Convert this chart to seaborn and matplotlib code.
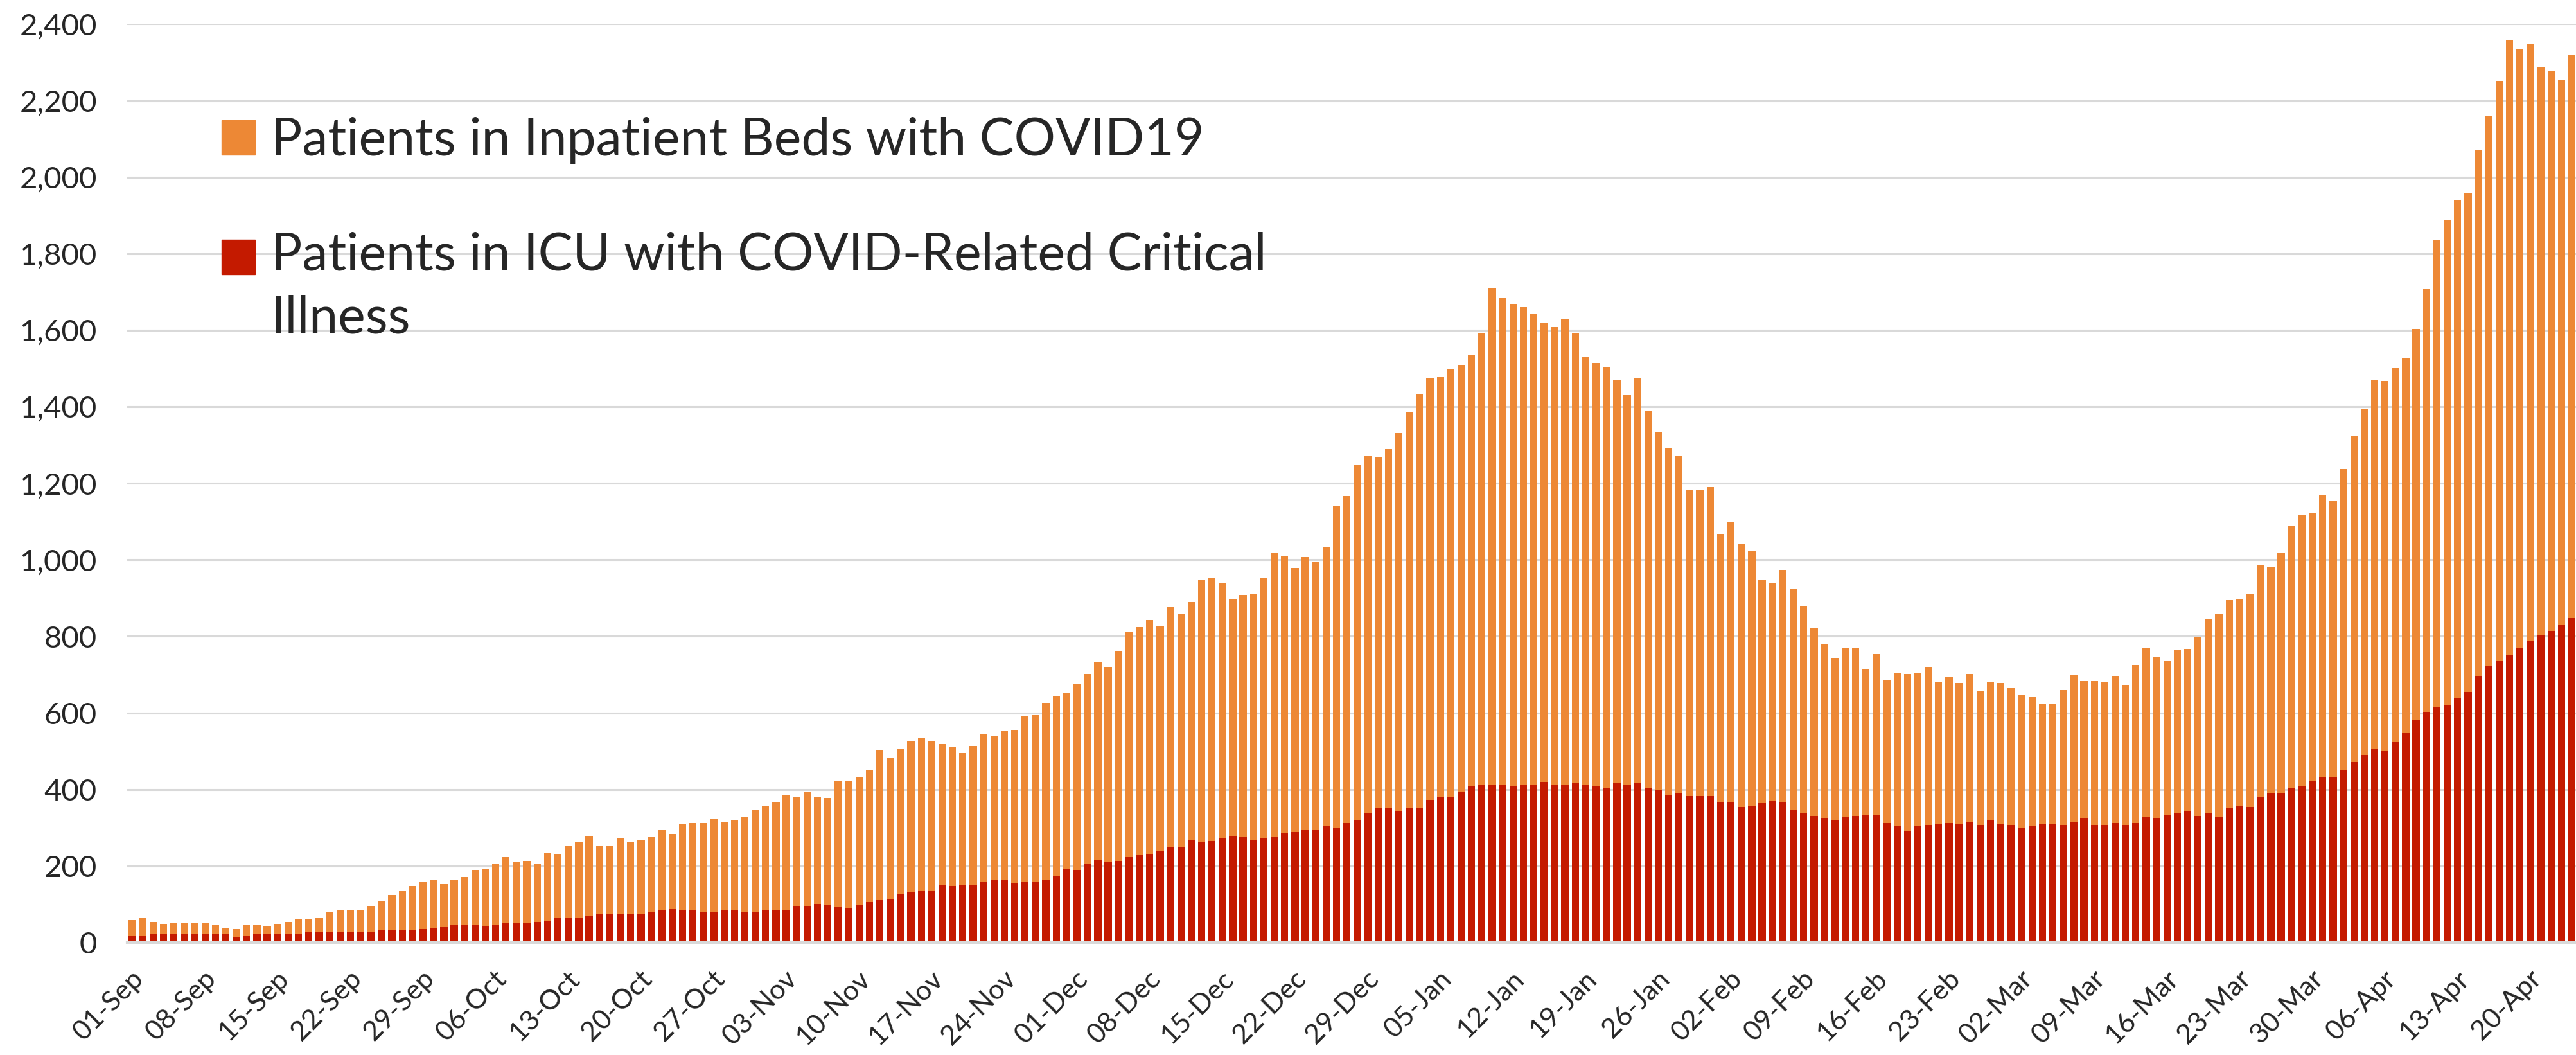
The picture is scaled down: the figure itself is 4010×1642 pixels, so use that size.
import numpy as np
import pandas as pd
import matplotlib
matplotlib.use("Agg")
import matplotlib.pyplot as plt
import seaborn as sns
from matplotlib.ticker import FuncFormatter
from matplotlib.patches import Patch, Rectangle
from matplotlib.legend_handler import HandlerPatch
from matplotlib.transforms import ScaledTranslation

# daily values, 01-Sep-2020 .. 24-Apr-2021
dates = pd.date_range("2020-09-01", "2021-04-24", freq="D")

# top of the orange column = all patients in inpatient beds with COVID19
inpatient_total = [
    58, 63, 54, 49, 51, 51, 51, 51, 45, 39, 35, 45, 45, 44, 49, 54, 60, 60, 65, 79,
    85, 85, 85, 96, 108, 125, 135, 148, 159, 165, 152, 163, 172, 190, 192, 206, 223, 210, 214, 205,
    234, 231, 252, 262, 278, 251, 253, 274, 262, 269, 275, 293, 283, 310, 313, 312, 323, 315, 320, 329,
    348, 357, 368, 385, 379, 393, 380, 378, 422, 423, 433, 451, 503, 484, 505, 528, 535, 525, 518,
    510, 496, 514, 545, 539, 553, 556, 592, 595, 627, 643, 653, 675, 701, 733, 721, 763, 812, 825, 843,
    827, 876, 858, 890, 947, 954, 940, 897, 909, 911, 954, 1019, 1011, 978, 1007, 994, 1033, 1141, 1167,
    1249,
    1271, 1270, 1289, 1332, 1386, 1433, 1475, 1477, 1499, 1509, 1536, 1592, 1711, 1684, 1668, 1661, 1644, 1618, 1608, 1628,
    1594, 1530, 1515, 1504, 1469, 1432, 1476, 1390, 1335, 1291, 1271, 1182, 1182, 1191, 1068, 1099, 1042, 1022, 949,
    938,
    973, 925, 879, 823, 781, 744, 770, 771, 714, 753, 685, 703, 701, 705, 720, 680, 694, 679, 701, 658,
    680, 679, 665, 646, 641, 623, 624, 659, 698, 684, 684, 680, 696, 674, 726, 770, 747, 736,
    764,
    768, 797, 847, 858, 895, 896, 911, 985, 980, 1018, 1089, 1116, 1123, 1169, 1155, 1237, 1324, 1393, 1471, 1467,
    1502, 1528, 1603, 1708, 1836, 1889, 1939, 1960, 2072, 2159, 2252, 2358, 2334, 2349, 2286, 2276, 2255, 2320,
]

# red column = patients in ICU with COVID-related critical illness
icu_critical = [
    17, 17, 21, 21, 21, 21, 21, 21, 21, 21, 15, 17, 21, 23, 23, 23, 23, 27, 27, 27,
    27, 27, 29, 27, 32, 32, 32, 32, 35, 39, 40, 45, 45, 45, 42, 45, 50, 50, 50, 54,
    55, 63, 66, 66, 71, 76, 76, 74, 76, 76, 81, 86, 88, 86, 86, 81, 79, 86, 86, 81,
    81, 86, 86, 86, 96, 96, 100, 98, 94, 91, 98, 106, 113, 115, 126, 132, 136, 136, 150,
    148, 150, 150, 160, 163, 163, 155, 157, 159, 163, 174, 192, 189, 205, 216, 210, 213, 223, 230, 231,
    238, 248, 249, 269, 262, 266, 273, 279, 276, 269, 273, 277, 286, 288, 294, 294, 304, 299, 312,
    320,
    339, 351, 351, 342, 351, 351, 372, 381, 381, 393, 408, 411, 411, 411, 408, 413, 412, 419, 413, 413,
    417, 413, 408, 404, 417, 411, 417, 403, 398, 385, 390, 383, 383, 382, 367, 367, 355, 358, 364,
    370,
    367, 346, 339, 331, 326, 320, 327, 331, 332, 332, 313, 305, 292, 305, 307, 310, 313, 310, 315, 307,
    319, 310, 307, 300, 304, 310, 310, 307, 316, 325, 307, 307, 312, 307, 313, 328, 325, 332,
    339,
    344, 331, 337, 328, 353, 358, 355, 381, 389, 389, 405, 408, 421, 431, 431, 450, 471, 490, 506, 501,
    524, 548, 582, 602, 614, 622, 638, 655, 697, 723, 736, 752, 769, 787, 802, 814, 829, 848,
]

assert len(inpatient_total) == len(dates) == len(icu_critical)

labels = ["Patients in Inpatient Beds with COVID19",
          "Patients in ICU with COVID-Related Critical\nIllness"]

ORANGE = "#ED8835"
RED = "#C41A00"
GRID = "#D9D9D9"

sns.set_style("white")
plt.rcParams["font.family"] = ["Lato", "DejaVu Sans"]

df = pd.DataFrame({
    "day": dates.strftime("%d-%b"),
    "total": inpatient_total,
    "icu": icu_critical,
})

fig = plt.figure(figsize=(40.10, 16.42), dpi=100)
ax = fig.add_axes([198 / 4010, 175 / 1642, 3812 / 4010, 1429.5 / 1642])

sns.barplot(data=df, x="day", y="total", color=ORANGE, saturation=1,
            width=0.7, linewidth=0, ax=ax)
sns.barplot(data=df, x="day", y="icu", color=RED, saturation=1,
            width=0.7, linewidth=0, ax=ax)

ax.set_xlim(-0.5, len(df) - 0.6)
ax.set_ylim(0, 2400)
ax.set_xlabel("")
ax.set_ylabel("")

# weekly labels under the day, tick marks between days
week = np.arange(0, len(df), 7)
ax.set_xticks(week)
ax.set_xticklabels(df["day"].iloc[week], rotation=45, ha="right",
                   va="center", rotation_mode="anchor", fontsize=31)
ax.set_xticks(week - 0.5, minor=True)
ax.tick_params(axis="x", which="major", length=0, pad=36)
ax.tick_params(axis="x", which="minor", length=15, width=2.5, color=GRID,
               direction="out")
shift = ScaledTranslation(8 / 72, 0, fig.dpi_scale_trans)
for lbl in ax.get_xticklabels():
    lbl.set_transform(lbl.get_transform() + shift)

ax.set_yticks(np.arange(0, 2401, 200))
ax.yaxis.set_major_formatter(FuncFormatter(lambda v, _: f"{int(v):,}"))
ax.tick_params(axis="y", length=0, pad=34, labelsize=34)

ax.yaxis.grid(True, color=GRID, linewidth=2.2)
ax.set_axisbelow(True)
for s in ["top", "right", "left"]:
    ax.spines[s].set_visible(False)
ax.spines["bottom"].set_color(GRID)
ax.spines["bottom"].set_linewidth(3)


# the square of a two-line entry sits next to the first line
def first_line_square(legend, orig_handle, xdescent, ydescent, width, height, fontsize):
    return Rectangle((-xdescent, -ydescent + 0.6 * fontsize), width, height)


handles = [Patch(color=ORANGE), Patch(color=RED)]
leg = ax.legend(handles, labels, loc="upper left",
                bbox_to_anchor=(345 / 4010, 1 - 182 / 1642),
                bbox_transform=fig.transFigure, frameon=False, fontsize=58,
                handlelength=0.65, handleheight=0.65, handletextpad=0.3,
                labelspacing=1.3, borderpad=0, borderaxespad=0,
                handler_map={handles[1]: HandlerPatch(patch_func=first_line_square)})
for t in leg.get_texts():
    t.set_linespacing(1.4)

fig.savefig("out.png", dpi=100, facecolor="white")
